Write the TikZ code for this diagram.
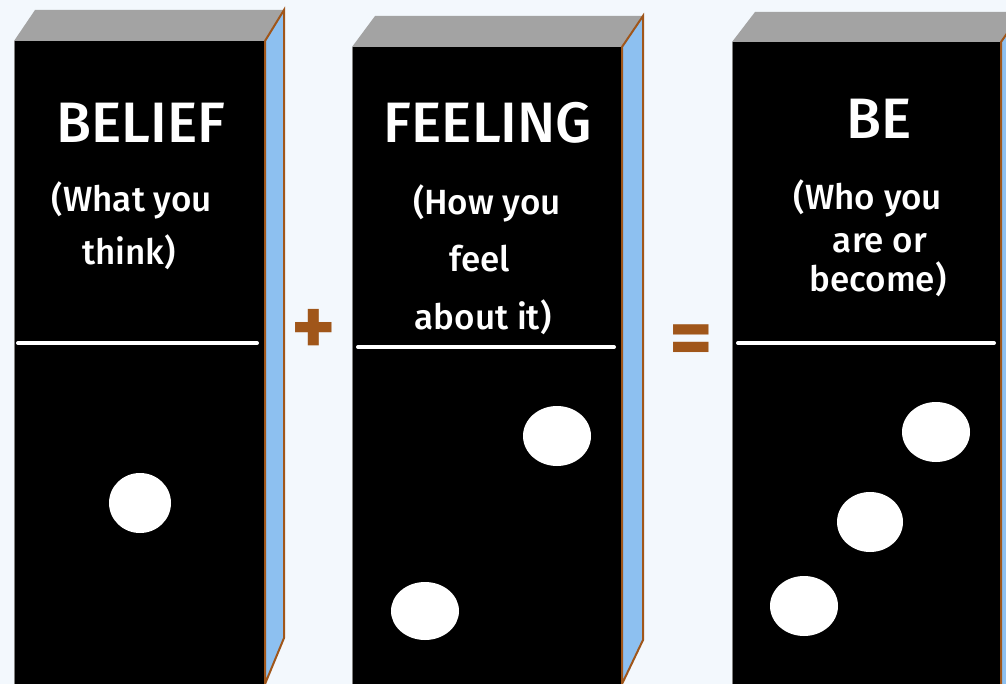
\documentclass[tikz,border=0pt]{standalone}
\usepackage{fontspec}
\setmainfont{Fira Sans}[UprightFont={* Medium}, BoldFont={* Bold}]
\usepackage{xcolor}
\definecolor{paleblue}{HTML}{F3F8FD}
\definecolor{topgray}{HTML}{A3A3A3}
\definecolor{sideblue}{HTML}{8DC0F0}
\definecolor{rustbrown}{HTML}{A0561A}
\usepackage{tikz}
\usetikzlibrary{positioning}

\tikzset{
  title/.style={text=white, anchor=base, inner sep=0pt, font=\fontsize{57}{60}\selectfont},
  caption/.style={text=white, anchor=base, inner sep=0pt, font=\fontsize{35}{40}\selectfont},
  sign/.style={text=rustbrown, anchor=center, inner sep=0pt, font=\bfseries\fontsize{84}{84}\selectfont}
}

\begin{document}
\begin{tikzpicture}[x=1pt, y=-1pt]
  \useasboundingbox (0,0) rectangle (1006,684);
  \fill[paleblue] (0,0) rectangle (1006,684);
  \clip (0,0) rectangle (1006,684);

  \fill[black] (14,41) rectangle (265,690);
  \draw[line width=1pt, color=gray] (14,41) -- (14,690);
  \fill[topgray] (14,41) -- (35,10) -- (284,10) -- (265,41) -- cycle;
  \draw[line width=2pt, color=rustbrown, fill=sideblue] (265,41) -- (284,10) -- (284,638) -- (265,684) -- cycle;

  \fill[black] (352,47) rectangle (622,690);
  \draw[line width=1pt, color=gray] (352,47) -- (352,690);
  \fill[topgray] (352,47) -- (375,16) -- (643,16) -- (622,47) -- cycle;
  \draw[line width=2pt, color=rustbrown, fill=sideblue] (622,47) -- (643,16) -- (643,640) -- (622,684) -- cycle;

  \fill[black] (732,42) rectangle (1001,690);
  \draw[line width=1pt, color=gray] (732,42) -- (732,690);
  \fill[topgray] (732,42) -- (755,12) -- (1022,12) -- (1001,42) -- cycle;
  \draw[line width=2pt, color=rustbrown, fill=sideblue] (1001,42) -- (1022,12) -- (1022,690) -- (1001,690) -- cycle;

  \draw[line width=4pt, color=white, line cap=round] (18,343) -- (257,343);
  \draw[line width=4pt, color=white, line cap=round] (358,347) -- (614,347);
  \draw[line width=4pt, color=white, line cap=round] (738,343) -- (994,343);

  \foreach \x/\y/\rx/\ry in {140/503/31/30, 557/436/34/30, 425/611/34/29, 936/432/34/30, 870/522/33/30, 804/606/34/30} {
    \fill[white] (\x,\y) ellipse ({\rx pt} and {\ry pt});
  }

  \node[title] (belief) at (141,143) {BELIEF};
  \node[caption] (beliefa) at (132,212) {(What you};
  \node[caption] (beliefb) at (129,265) {think)};

  \node[title] (feeling) at (488,143) {FEELING};
  \node[caption] (feelinga) at (487,215) {(How you};
  \node[caption] (feelingb) at (480,272) {feel};
  \node[caption] (feelingc) at (483,330) {about it)};

  \node[title] (be) at (879,139) {BE};
  \node[caption] (bea) at (868,210) {(Who you};
  \node[caption] (beb) at (880,253) {are or};
  \node[caption] (bec) at (878,292) {become)};

  \node[sign] (plus) at (314,332) {+};
  \node[sign] (equals) at (691,346) {=};
\end{tikzpicture}
\end{document}
